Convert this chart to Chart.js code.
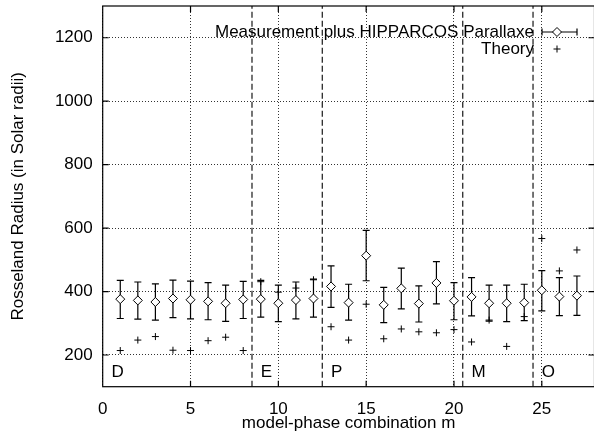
<!DOCTYPE html>
<html>
<head>
<meta charset="utf-8">
<title>Rosseland Radius</title>
<script src="https://cdn.jsdelivr.net/npm/chart.js@4.4.1/dist/chart.umd.min.js"></script>
<style>
  html, body { margin: 0; padding: 0; background: #fff; overflow: hidden; }
</style>
</head>
<body>
<canvas id="grafico" width="600" height="434"></canvas>
<script>
// datos
const combinaciones = [1, 2, 3, 4, 5, 6, 7, 8, 9, 10, 11, 12, 13, 14, 15, 16, 17, 18, 19, 20, 21, 22, 23, 24, 25, 26, 27];
const medido = [376, 372, 367, 378, 374, 369, 363, 375, 376, 363, 373, 378, 416, 365, 513, 358, 410, 362, 427, 371, 383, 363, 363, 365, 404, 384, 387];
const medidoAlto = [435, 430, 424, 436, 433, 428, 420, 432, 435, 420, 430, 439, 481, 423, 593, 413, 474, 418, 494, 428, 444, 420, 420, 423, 466, 444, 449];
const medidoBajo = [315, 313, 310, 318, 314, 311, 306, 315, 319, 305, 314, 319, 350, 310, 434, 302, 345, 304, 361, 311, 323, 307, 305, 308, 339, 324, 325];
const teoria = [214, 247, 258, 215, 214, 245, 256, 214, 431, 398, 411, 437, 289, 247, 360, 251, 282, 273, 270, 280, 241, 310, 227, 321, 567, 465, 531];

const separadores = [8.5, 12.5, 20.5, 24.5];
const grupos = ['D', 'E', 'P', 'M', 'O'];
const inicioGrupo = [0.5, 9, 13, 21, 25];

const ticksX = [0, 5, 10, 15, 20, 25];
const ticksY = [200, 400, 600, 800, 1000, 1200];
const rangoX = [0, 28];
const rangoY = [100, 1300];

const FUENTE = '"Liberation Sans", Arial, Helvetica, sans-serif';
const etiquetaY = 130;

// barras de error (debajo de los rombos)
const barrasError = {
  id: 'barrasError',
  beforeDatasetsDraw(chart) {
    const { ctx, scales: { x, y } } = chart;
    ctx.save();
    ctx.strokeStyle = '#000';
    ctx.lineWidth = 1.2;
    combinaciones.forEach((m, i) => {
      const px = x.getPixelForValue(m);
      const top = y.getPixelForValue(medidoAlto[i]);
      const bot = y.getPixelForValue(medidoBajo[i]);
      ctx.beginPath();
      ctx.moveTo(px, top); ctx.lineTo(px, bot);
      ctx.moveTo(px - 3.5, top); ctx.lineTo(px + 3.5, top);
      ctx.moveTo(px - 3.5, bot); ctx.lineTo(px + 3.5, bot);
      ctx.stroke();
    });
    ctx.restore();
  }
};

// marco, ticks interiores, letras de grupo y leyenda
const marco = {
  id: 'marco',
  afterDraw(chart) {
    const { ctx, chartArea: a, scales: { x, y } } = chart;
    ctx.save();
    ctx.strokeStyle = '#000';
    ctx.lineWidth = 1.2;
    ctx.strokeRect(a.left, a.top, a.right - a.left, a.bottom - a.top);

    ctx.beginPath();
    ticksX.slice(1).forEach(v => {
      const px = x.getPixelForValue(v);
      ctx.moveTo(px, a.bottom); ctx.lineTo(px, a.bottom - 6);
      ctx.moveTo(px, a.top); ctx.lineTo(px, a.top + 6);
    });
    ticksY.forEach(v => {
      const py = y.getPixelForValue(v);
      ctx.moveTo(a.left, py); ctx.lineTo(a.left + 6, py);
      ctx.moveTo(a.right, py); ctx.lineTo(a.right - 6, py);
    });
    ctx.stroke();

    ctx.fillStyle = '#000';
    ctx.font = '17px ' + FUENTE;
    ctx.textBaseline = 'alphabetic';
    ctx.textAlign = 'left';
    grupos.forEach((g, i) => {
      ctx.fillText(g, x.getPixelForValue(inicioGrupo[i]), y.getPixelForValue(etiquetaY));
    });

    // leyenda
    ctx.textAlign = 'right';
    ctx.textBaseline = 'middle';
    ctx.fillText('Measurement plus HIPPARCOS Parallaxe', 534, 32);
    ctx.fillText('Theory', 534, 49);

    ctx.lineWidth = 1.2;
    ctx.beginPath();
    ctx.moveTo(542, 32); ctx.lineTo(577, 32);
    ctx.moveTo(542, 28.5); ctx.lineTo(542, 35.5);
    ctx.moveTo(577, 28.5); ctx.lineTo(577, 35.5);
    ctx.stroke();
    ctx.beginPath();
    ctx.moveTo(557, 27.5); ctx.lineTo(561.5, 32); ctx.lineTo(557, 36.5); ctx.lineTo(552.5, 32); ctx.closePath();
    ctx.fillStyle = '#fff';
    ctx.fill();
    ctx.lineWidth = 1;
    ctx.stroke();
    ctx.beginPath();
    ctx.moveTo(553.5, 49); ctx.lineTo(560.5, 49);
    ctx.moveTo(557, 45.5); ctx.lineTo(557, 52.5);
    ctx.stroke();
    ctx.restore();
  }
};

const datasets = [
  {
    label: 'Measurement plus HIPPARCOS Parallaxe',
    data: combinaciones.map((m, i) => ({ x: m, y: medido[i] })),
    showLine: false,
    pointStyle: 'rectRot',
    pointRadius: 4.5,
    pointBackgroundColor: '#fff',
    pointBorderColor: '#000',
    pointBorderWidth: 1
  },
  {
    label: 'Theory',
    data: combinaciones.map((m, i) => ({ x: m, y: teoria[i] })),
    showLine: false,
    pointStyle: 'cross',
    pointRadius: 3.5,
    pointBorderColor: '#000',
    pointBorderWidth: 1
  }
];

separadores.forEach(s => {
  datasets.push({
    label: 'sep',
    data: [{ x: s, y: rangoY[0] }, { x: s, y: rangoY[1] }],
    showLine: true,
    borderColor: '#000',
    borderWidth: 1.1,
    borderDash: [6, 3],
    pointRadius: 0
  });
});

const gridOpts = { color: 'rgba(0,0,0,0.8)', lineWidth: 1, drawTicks: false };

const config = {
  type: 'scatter',
  data: { datasets },
  plugins: [barrasError, marco],
  options: {
    responsive: false,
    animation: false,
    layout: { padding: { left: 0, right: 4.5, top: 6, bottom: 0 } },
    plugins: { legend: { display: false }, tooltip: { enabled: false } },
    scales: {
      x: {
        type: 'linear',
        min: rangoX[0],
        max: rangoX[1],
        grid: gridOpts,
        border: { display: false, dash: [1, 2] },
        afterBuildTicks: s => { s.ticks = ticksX.map(v => ({ value: v })); },
        afterFit: s => { s.height = 47.3; s.paddingLeft = 0; s.paddingRight = 0; },
        ticks: { color: '#000', padding: 12, font: { family: FUENTE, size: 17 }, maxRotation: 0, callback: v => String(v) },
        title: {
          display: true,
          text: 'model-phase combination m',
          color: '#000',
          font: { family: FUENTE, size: 17 },
          padding: { top: 0, bottom: 0 }
        }
      },
      y: {
        type: 'linear',
        min: rangoY[0],
        max: rangoY[1],
        grid: gridOpts,
        border: { display: false, dash: [1, 2] },
        afterBuildTicks: s => { s.ticks = ticksY.map(v => ({ value: v })); },
        afterFit: s => { s.width = 102.7; s.paddingTop = 0; s.paddingBottom = 0; },
        ticks: { color: '#000', padding: 10, font: { family: FUENTE, size: 17 }, callback: v => String(v) },
        title: {
          display: true,
          text: 'Rosseland Radius (in Solar radii)',
          color: '#000',
          font: { family: FUENTE, size: 17 },
          padding: { top: 8, bottom: 0 }
        }
      }
    }
  }
};

document.addEventListener('DOMContentLoaded', () => {
  const ctx = document.getElementById('grafico').getContext('2d');
  new Chart(ctx, config);
});
</script>
</body>
</html>
